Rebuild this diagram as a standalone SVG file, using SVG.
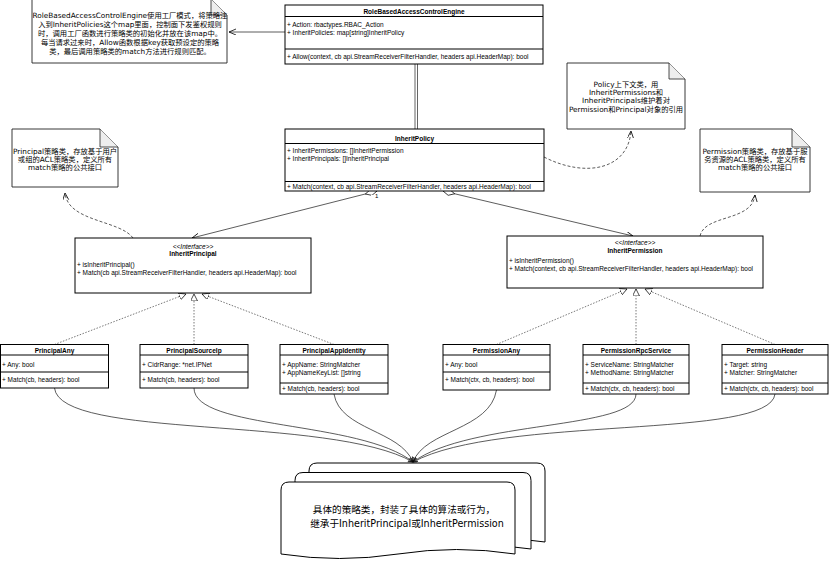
<svg xmlns="http://www.w3.org/2000/svg" width="832" height="572" viewBox="0 0 832 572">
<style>
.box{fill:#fff;stroke:#000;stroke-width:1}
.dv{stroke:#000;stroke-width:1}
.dl{stroke:#222;stroke-width:0.7}
.t{font-family:"Liberation Sans",Arial,sans-serif;font-size:6.5px;fill:#000}
.b{font-weight:bold;text-anchor:middle}
.st{font-style:italic;text-anchor:middle}
.note{fill:#fff;stroke:#222;stroke-width:0.9}
.fold{fill:#eee;stroke:#222;stroke-width:0.8}
.nt{font-family:"DejaVu Sans","Noto Sans CJK SC",sans-serif;font-size:7.3px;text-anchor:middle;fill:#000}
.dt{font-family:"DejaVu Sans","Noto Sans CJK SC",sans-serif;font-size:9.6px;text-anchor:middle;fill:#000}
.ln{fill:none;stroke:#333;stroke-width:0.8}
.dash{fill:none;stroke:#333;stroke-width:0.8;stroke-dasharray:3,2}
.dot{fill:none;stroke:#555;stroke-width:0.8;stroke-dasharray:1.5,1.5}
.page{fill:#fff;stroke:#000;stroke-width:1}
</style>
<defs>
<marker id="open" markerWidth="10" markerHeight="8" refX="7" refY="3" orient="auto" markerUnits="userSpaceOnUse">
<path d="M0,0 L7,3 L0,6" fill="none" stroke="#000" stroke-width="0.8"/>
</marker>
<marker id="tri" markerWidth="10" markerHeight="10" refX="7" refY="3.5" orient="auto" markerUnits="userSpaceOnUse">
<path d="M0,0 L7,3.5 L0,7 Z" fill="#fff" stroke="#000" stroke-width="0.7"/>
</marker>
<marker id="dia" markerWidth="14" markerHeight="8" refX="0" refY="3" orient="auto" markerUnits="userSpaceOnUse">
<path d="M0,3 L6,0 L12,3 L6,6 Z" fill="#fff" stroke="#000" stroke-width="0.7"/>
</marker>
<marker id="small" markerWidth="8" markerHeight="8" refX="5" refY="2.5" orient="auto" markerUnits="userSpaceOnUse">
<path d="M0,0 L5,2.5 L0,5" fill="none" stroke="#000" stroke-width="0.7"/>
</marker>
</defs>

<g id="connectors">
<path class="ln" d="M285,32 L229,32" marker-end="url(#open)"/>
<line class="dl" x1="415" y1="64" x2="415" y2="129"/>
<line class="dl" x1="417.5" y1="64" x2="417.5" y2="129"/>
<path class="ln" d="M377,191 L192,238" marker-start="url(#dia)" marker-end="url(#open)"/>
<path class="ln" d="M443,191 L633,236" marker-start="url(#dia)" marker-end="url(#open)"/>
<text class="t" x="375" y="198" style="font-size:6px">1</text>
<path class="dash" d="M544,157 C585,178 628,170 631,131" marker-end="url(#open)"/>
<path class="dash" d="M133,238 C120,220 68,222 65,193" marker-end="url(#open)"/>
<path class="dash" d="M700,236 C705,214 752,222 755,195" marker-end="url(#open)"/>
<path class="dot" d="M54.5,344.5 L186,294" marker-end="url(#tri)"/>
<path class="dot" d="M194,344.5 L194,294" marker-end="url(#tri)"/>
<path class="dot" d="M334,344.5 L202,294" marker-end="url(#tri)"/>
<path class="dot" d="M496.5,344.5 L627,289" marker-end="url(#tri)"/>
<path class="dot" d="M636,344.5 L636,289" marker-end="url(#tri)"/>
<path class="dot" d="M775,344.5 L645,289" marker-end="url(#tri)"/>
<path class="ln" d="M54.5,388 C60,440 330,415 413,462" marker-end="url(#small)"/>
<path class="ln" d="M194,388 C194,430 360,420 413,462" marker-end="url(#small)"/>
<path class="ln" d="M334,394 C340,430 400,430 413,462" marker-end="url(#small)"/>
<path class="ln" d="M496.5,390 C490,430 425,430 413,462" marker-end="url(#small)"/>
<path class="ln" d="M636,394 C636,430 470,420 413,462" marker-end="url(#small)"/>
<path class="ln" d="M775,394 C770,440 500,415 413,462" marker-end="url(#small)"/>
</g>

<g id="note-engine">
<path class="note" d="M32,-1 L211,-1 L227,15 L227,63 L32,63 Z"/>
<path class="fold" d="M211,-1 L211,15 L227,15"/>
<text class="nt" x="130" y="17.5">RoleBasedAccessControlEngine使用工厂模式，将策略注</text>
<text class="nt" x="130" y="26.7">入到InheritPolicies这个map里面，控制面下发鉴权规则</text>
<text class="nt" x="130" y="35.9">时，调用工厂函数进行策略类的初始化并放在该map中。</text>
<text class="nt" x="130" y="45.1">每当请求过来时，Allow函数根据key获取预设定的策略</text>
<text class="nt" x="130" y="54.3">类，最后调用策略类的match方法进行规则匹配。</text>
</g>

<g id="RoleBasedAccessControlEngine">
<rect class="box" x="285" y="5" width="258" height="59"/>
<line class="dv" x1="285" y1="16.5" x2="543" y2="16.5"/>
<line class="dv" x1="285" y1="49" x2="543" y2="49"/>
<text class="t b" x="414" y="13.5">RoleBasedAccessControlEngine</text>
<text class="t" x="287" y="26.5">+ Action: rbactypes.RBAC_Action</text>
<text class="t" x="287" y="34.5">+ InheritPolicies: map[string]InheritPolicy</text>
<text class="t" x="287" y="59">+ Allow(context, cb api.StreamReceiverFilterHandler, headers api.HeaderMap): bool</text>
</g>

<g id="note-policy">
<path class="note" d="M567,63 L669,63 L685,79 L685,129 L567,129 Z"/>
<path class="fold" d="M669,63 L669,79 L685,79"/>
<text class="nt" x="626" y="87">Policy上下文类，用</text>
<text class="nt" x="626" y="95.3">InheritPermissions和</text>
<text class="nt" x="626" y="103.3">InheritPrincipals维护着对</text>
<text class="nt" x="626" y="111.6">Permission和Principal对象的引用</text>
</g>

<g id="InheritPolicy">
<rect class="box" x="285" y="129" width="259" height="62"/>
<line class="dv" x1="285" y1="143.5" x2="544" y2="143.5"/>
<line class="dv" x1="285" y1="181.5" x2="544" y2="181.5"/>
<text class="t b" x="414.5" y="140.5">InheritPolicy</text>
<text class="t" x="287" y="152.5">+ InheritPermissions: []InheritPermission</text>
<text class="t" x="287" y="160.5">+ InheritPrincipals: []InheritPrincipal</text>
<text class="t" x="287" y="189">+ Match(context, cb api.StreamReceiverFilterHandler, headers api.HeaderMap): bool</text>
</g>

<g id="note-principal">
<path class="note" d="M12,129 L100,129 L118,147 L118,187 L12,187 Z"/>
<path class="fold" d="M100,129 L100,147 L118,147"/>
<text class="nt" x="65" y="153.5">Principal策略类，存放基于用户</text>
<text class="nt" x="65" y="162">或组的ACL策略类，定义所有</text>
<text class="nt" x="65" y="170.3">match策略的公共接口</text>
</g>

<g id="note-permission">
<path class="note" d="M700,129 L792,129 L810,147 L810,192 L700,192 Z"/>
<path class="fold" d="M792,129 L792,147 L810,147"/>
<text class="nt" x="755" y="153.5">Permission策略类，存放基于服</text>
<text class="nt" x="755" y="162">务资源的ACL策略类，定义所有</text>
<text class="nt" x="755" y="170.3">match策略的公共接口</text>
</g>

<g id="InheritPrincipal">
<rect class="box" x="75" y="238" width="236" height="55"/>
<text class="t st" x="193" y="248.5">&lt;&lt;Interface&gt;&gt;</text>
<text class="t b" x="193" y="256">InheritPrincipal</text>
<text class="t" x="77" y="267">+ isInheritPrincipal()</text>
<text class="t" x="77" y="275">+ Match(cb api.StreamReceiverFilterHandler, headers api.HeaderMap): bool</text>
</g>

<g id="InheritPermission">
<rect class="box" x="507" y="236" width="256" height="52"/>
<text class="t st" x="635" y="245">&lt;&lt;Interface&gt;&gt;</text>
<text class="t b" x="635" y="252.5">InheritPermission</text>
<text class="t" x="509" y="263">+ isInheritPermission()</text>
<text class="t" x="509" y="271">+ Match(context, cb api.StreamReceiverFilterHandler, headers api.HeaderMap): bool</text>
</g>

<g id="PrincipalAny">
<rect class="box" x="0.5" y="344.5" width="108" height="43.5"/>
<line class="dv" x1="0.5" y1="355" x2="108.5" y2="355"/>
<line class="dv" x1="0.5" y1="372" x2="108.5" y2="372"/>
<text class="t b" x="54.5" y="352.5">PrincipalAny</text>
<text class="t" x="2" y="366.5">+ Any: bool</text>
<text class="t" x="2" y="381.5">+ Match(cb, headers): bool</text>
</g>

<g id="PrincipalSourceIp">
<rect class="box" x="140" y="344.5" width="108" height="43.5"/>
<line class="dv" x1="140" y1="355" x2="248" y2="355"/>
<line class="dv" x1="140" y1="372" x2="248" y2="372"/>
<text class="t b" x="194" y="352.5">PrincipalSourceIp</text>
<text class="t" x="142" y="366.5">+ CidrRange: *net.IPNet</text>
<text class="t" x="142" y="381.5">+ Match(cb, headers): bool</text>
</g>

<g id="PrincipalAppIdentity">
<rect class="box" x="280" y="344.5" width="108" height="49.5"/>
<line class="dv" x1="280" y1="355" x2="388" y2="355"/>
<line class="dv" x1="280" y1="383" x2="388" y2="383"/>
<text class="t b" x="334" y="352.5">PrincipalAppIdentity</text>
<text class="t" x="282" y="366.5">+ AppName: StringMatcher</text>
<text class="t" x="282" y="375">+ AppNameKeyList: []string</text>
<text class="t" x="282" y="390.5">+ Match(cb, headers): bool</text>
</g>

<g id="PermissionAny">
<rect class="box" x="443" y="344.5" width="107" height="45.5"/>
<line class="dv" x1="443" y1="355" x2="550" y2="355"/>
<line class="dv" x1="443" y1="372" x2="550" y2="372"/>
<text class="t b" x="496.5" y="352.5">PermissionAny</text>
<text class="t" x="445" y="366.5">+ Any: bool</text>
<text class="t" x="445" y="381.5">+ Match(ctx, cb, headers): bool</text>
</g>

<g id="PermissionRpcService">
<rect class="box" x="583" y="344.5" width="106" height="49.5"/>
<line class="dv" x1="583" y1="355" x2="689" y2="355"/>
<line class="dv" x1="583" y1="383" x2="689" y2="383"/>
<text class="t b" x="636" y="352.5">PermissionRpcService</text>
<text class="t" x="585" y="366.5">+ ServiceName: StringMatcher</text>
<text class="t" x="585" y="375">+ MethodName: StringMatcher</text>
<text class="t" x="585" y="390.5">+ Match(ctx, cb, headers): bool</text>
</g>

<g id="PermissionHeader">
<rect class="box" x="722" y="344.5" width="106" height="49.5"/>
<line class="dv" x1="722" y1="355" x2="828" y2="355"/>
<line class="dv" x1="722" y1="383" x2="828" y2="383"/>
<text class="t b" x="775" y="352.5">PermissionHeader</text>
<text class="t" x="724" y="366.5">+ Target: string</text>
<text class="t" x="724" y="375">+ Matcher: StringMatcher</text>
<text class="t" x="724" y="390.5">+ Match(ctx, cb, headers): bool</text>
</g>

<g id="strategies">
<path class="page" d="M309,471 Q309,463 317,463 L537,463 Q545,463 545,471 L545,542 Q486,533 427,542 Q368,551 309,542 Z"/>
<path class="page" d="M295,480.5 Q295,472.5 303,472.5 L523,472.5 Q531,472.5 531,480.5 L531,549 Q472,540 413,549 Q354,558 295,549 Z"/>
<path class="page" d="M281,490 Q281,482 289,482 L507,482 Q515,482 515,490 L515,554 Q456.5,545 398,554 Q339.5,563 281,554 Z"/>
<text class="dt" x="404" y="513">具体的策略类，封装了具体的算法或行为，</text>
<text class="dt" x="407" y="527">继承于InheritPrincipal或InheritPermission</text>
</g>
</svg>
